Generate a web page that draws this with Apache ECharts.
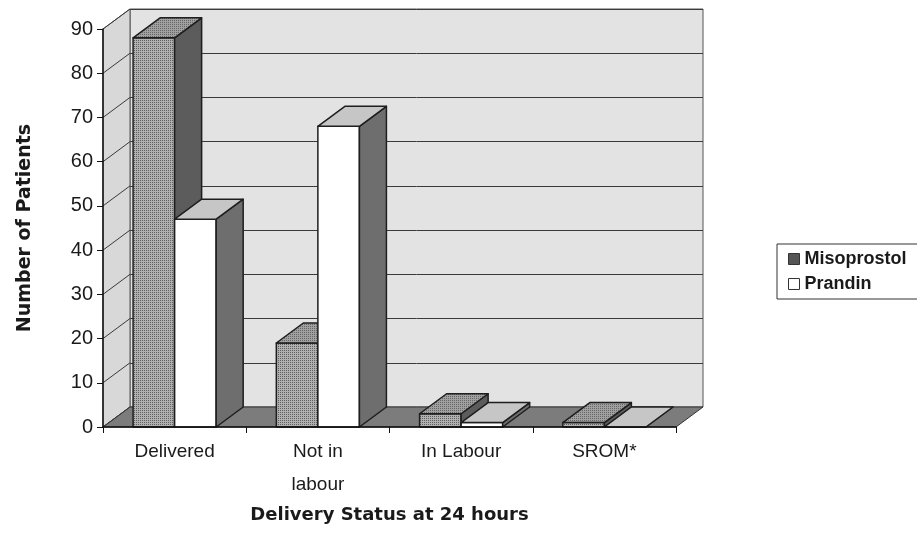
<!DOCTYPE html>
<html>
<head>
<meta charset="utf-8">
<title>Delivery Status at 24 hours</title>
<script src="https://cdn.jsdelivr.net/npm/echarts@6/dist/echarts.min.js"></script>
<style>
  html, body { margin: 0; padding: 0; background: #fff; }
  #chart { width: 917px; height: 548px; }
</style>
</head>
<body>
<div id="chart"></div>
<script>
// data
const categories = ['Delivered', 'Not in\nlabour', 'In Labour', 'SROM*'];
const misoprostol = [88, 19, 3, 1];
const prandin = [47, 68, 1, 0];
const yMin = 0;
const yMax = 90;
const yStep = 10;

// fake 3d depth (pixels)
const DX = 27;
const DY = -20;
const BAR_FRAC = 0.29;
const EDGE = '#1e1e1e';

const chart = echarts.init(document.getElementById('chart'));

// little dot tile like the old printed pattern fill
function stipple(bg, dot) {
  const c = document.createElement('canvas');
  c.width = 2;
  c.height = 2;
  const ctx = c.getContext('2d');
  ctx.fillStyle = bg;
  ctx.fillRect(0, 0, 2, 2);
  ctx.fillStyle = dot;
  ctx.fillRect(0, 0, 1, 1);
  return { image: c, repeat: 'repeat' };
}

function yTicks() {
  const t = [];
  for (let v = yMin; v <= yMax; v += yStep) t.push(v);
  return t;
}

// side wall + floor, drawn from the front grid
function renderWalls(params, api) {
  const cs = params.coordSys;
  const x0 = cs.x, x1 = cs.x + cs.width;
  const yb = cs.y + cs.height, yt = cs.y;
  const children = [
    {
      type: 'polygon',
      shape: { points: [[x0, yb], [x0, yt], [x0 + DX, yt + DY], [x0 + DX, yb + DY]] },
      style: { fill: '#d8d8d8', stroke: '#555', lineWidth: 1 }
    },
    {
      type: 'polygon',
      shape: { points: [[x0, yb], [x1, yb], [x1 + DX, yb + DY], [x0 + DX, yb + DY]] },
      style: { fill: '#7c7c7c', stroke: '#333', lineWidth: 1 }
    }
  ];
  yTicks().forEach(function (v) {
    const p = api.coord([0, v]);
    children.push({
      type: 'line',
      shape: { x1: x0, y1: p[1], x2: x0 + DX, y2: p[1] + DY },
      style: { stroke: '#3a3a3a', lineWidth: 1 }
    });
  });
  return { type: 'group', children: children };
}

function barRenderer(side, colors) {
  return function (params, api) {
    const i = api.value(0);
    const top = api.coord([i, api.value(1)]);
    const base = api.coord([i, 0]);
    const w = api.size([1, 0])[0] * BAR_FRAC;
    const x0 = side < 0 ? top[0] - w : top[0];
    const x1 = x0 + w;
    const yt = top[1], yb = base[1];
    const st = function (fill) {
      return { fill: fill, stroke: EDGE, lineWidth: 1.5, lineJoin: 'round' };
    };
    return {
      type: 'group',
      children: [
        { type: 'polygon', shape: { points: [[x0, yb], [x1, yb], [x1, yt], [x0, yt]] }, style: st(colors.front) },
        { type: 'polygon', shape: { points: [[x1, yb], [x1 + DX, yb + DY], [x1 + DX, yt + DY], [x1, yt]] }, style: st(colors.side) },
        { type: 'polygon', shape: { points: [[x0, yt], [x1, yt], [x1 + DX, yt + DY], [x0 + DX, yt + DY]] }, style: st(colors.top) }
      ]
    };
  };
}

const labelFont = { fontFamily: '"Liberation Sans", Arial, sans-serif', color: '#1a1a1a' };

chart.setOption({
  backgroundColor: '#fff',
  animation: false,
  legend: {
    orient: 'vertical',
    left: 777,
    top: 244,
    padding: [6, 60, 6, 11],
    itemWidth: 11,
    itemHeight: 11,
    itemGap: 7,
    icon: 'rect',
    borderColor: '#333',
    borderWidth: 1,
    textStyle: Object.assign({ fontSize: 18, fontWeight: 'bold' }, labelFont),
    data: [
      { name: 'Misoprostol', itemStyle: { color: '#555', borderColor: '#333', borderWidth: 1 } },
      { name: 'Prandin', itemStyle: { color: '#fff', borderColor: '#333', borderWidth: 1 } }
    ]
  },
  grid: [
    // front plane: axes, labels, bars
    { left: 103, top: 29, width: 573, height: 398 },
    // back wall
    {
      left: 103 + DX, top: 29 + DY, width: 573, height: 398,
      show: true, backgroundColor: '#e3e3e3', borderColor: '#555', borderWidth: 1
    }
  ],
  xAxis: [
    {
      type: 'category',
      gridIndex: 0,
      data: categories,
      z: 5,
      axisLine: { lineStyle: { color: '#111', width: 1.5 } },
      axisTick: { show: true, length: 6, lineStyle: { color: '#111' } },
      axisLabel: Object.assign({ fontSize: 19, margin: 8, lineHeight: 33, interval: 0 }, labelFont),
      name: 'Delivery Status at 24 hours',
      nameLocation: 'middle',
      nameGap: 75,
      nameTextStyle: { fontFamily: '"DejaVu Sans", sans-serif', fontWeight: 'bold', fontSize: 18, color: '#1a1a1a', verticalAlign: 'top' }
    },
    {
      type: 'category',
      gridIndex: 1,
      data: categories,
      show: false
    }
  ],
  yAxis: [
    {
      type: 'value',
      gridIndex: 0,
      min: yMin,
      max: yMax,
      interval: yStep,
      z: 5,
      axisLine: { show: true, lineStyle: { color: '#111', width: 1.5 } },
      axisTick: { show: true, length: 6, lineStyle: { color: '#111' } },
      axisLabel: Object.assign({ fontSize: 20, margin: 10 }, labelFont),
      splitLine: { show: false },
      name: 'Number of Patients',
      nameLocation: 'middle',
      nameGap: 68,
      nameTextStyle: { fontFamily: '"DejaVu Sans", sans-serif', fontWeight: 'bold', fontSize: 19, color: '#1a1a1a' }
    },
    {
      type: 'value',
      gridIndex: 1,
      min: yMin,
      max: yMax,
      interval: yStep,
      axisLine: { show: false },
      axisTick: { show: false },
      axisLabel: { show: false },
      splitLine: { show: true, lineStyle: { color: '#3a3a3a', width: 1 } }
    }
  ],
  series: [
    {
      name: 'walls',
      type: 'custom',
      xAxisIndex: 0,
      yAxisIndex: 0,
      z: 1,
      silent: true,
      renderItem: renderWalls,
      data: [[0, 0]]
    },
    {
      name: 'Misoprostol',
      type: 'custom',
      xAxisIndex: 0,
      yAxisIndex: 0,
      z: 2,
      itemStyle: { color: '#555' },
      renderItem: barRenderer(-1, {
        front: stipple('#b0b0b0', '#606060'),
        side: '#5c5c5c',
        top: stipple('#a0a0a0', '#666666')
      }),
      encode: { x: 0, y: 1 },
      data: misoprostol.map(function (v, i) { return [i, v]; })
    },
    {
      name: 'Prandin',
      type: 'custom',
      xAxisIndex: 0,
      yAxisIndex: 0,
      z: 2,
      itemStyle: { color: '#fff' },
      renderItem: barRenderer(1, { front: '#ffffff', side: '#6e6e6e', top: '#c6c6c6' }),
      encode: { x: 0, y: 1 },
      data: prandin.map(function (v, i) { return [i, v]; })
    }
  ]
});
</script>
</body>
</html>
